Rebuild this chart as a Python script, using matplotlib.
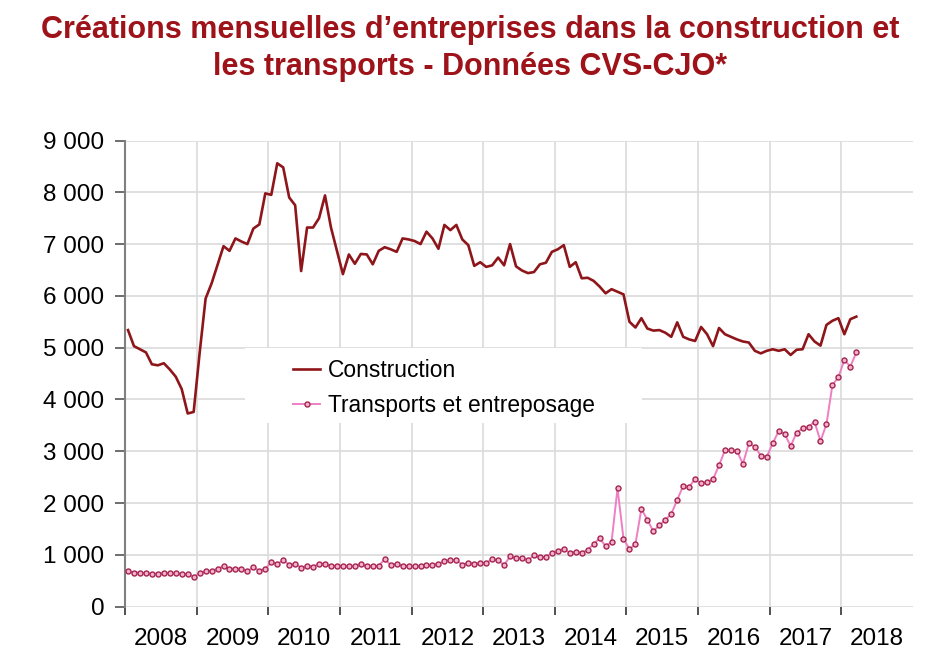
import matplotlib
matplotlib.use("Agg")
import matplotlib.pyplot as plt
from matplotlib.patches import Rectangle
import numpy as np

# Données mensuelles CVS-CJO, janvier 2008 -> mars 2018
construction = [
    5340, 5030, 4970, 4910, 4680, 4660, 4700, 4580, 4440, 4200, 3730, 3760,  # 2008
    4900, 5950, 6240, 6600, 6960, 6870, 7110, 7050, 7000, 7300, 7380, 7980,  # 2009
    7950, 8560, 8480, 7900, 7750, 6480, 7320, 7320, 7500, 7940, 7320, 6870,  # 2010
    6420, 6800, 6620, 6810, 6800, 6610, 6870, 6940, 6900, 6850, 7110, 7090,  # 2011
    7060, 7000, 7240, 7110, 6910, 7370, 7270, 7370, 7090, 6980, 6580, 6650,  # 2012
    6560, 6590, 6740, 6590, 7000, 6570, 6490, 6440, 6460, 6610, 6640, 6850,  # 2013
    6900, 6980, 6560, 6650, 6340, 6350, 6290, 6180, 6050, 6130, 6080, 6030,  # 2014
    5500, 5390, 5570, 5370, 5330, 5340, 5290, 5210, 5490, 5210, 5160, 5130,  # 2015
    5400, 5260, 5030, 5380, 5260, 5210, 5160, 5120, 5100, 4940, 4890, 4940,  # 2016
    4970, 4940, 4970, 4860, 4960, 4970, 5260, 5120, 5040, 5440, 5520, 5570,  # 2017
    5260, 5550, 5600,                                                        # 2018
]
transports = [
    680, 660, 660, 645, 640, 640, 645, 655, 655, 625, 625, 580,
    645, 685, 685, 735, 780, 735, 735, 735, 685, 760, 695, 735,
    855, 825, 895, 810, 825, 755, 790, 775, 830, 830, 790, 790,
    790, 780, 790, 830, 780, 790, 790, 915, 810, 830, 790, 790,
    780, 790, 810, 810, 830, 880, 900, 900, 810, 850, 830, 835,
    845, 915, 900, 805, 970, 945, 935, 900, 990, 955, 965, 1030,
    1080, 1120, 1040, 1060, 1040, 1095, 1210, 1320, 1170, 1250, 2285, 1315,
    1110, 1210, 1890, 1675, 1455, 1570, 1675, 1790, 2060, 2335, 2315, 2465,
    2380, 2405, 2460, 2730, 3020, 3020, 3010, 2755, 3155, 3090, 2915, 2895,
    3155, 3390, 3335, 3100, 3360, 3445, 3470, 3570, 3195, 3525, 4280, 4430,
    4765, 4635, 4910,
]
annees = ["2008", "2009", "2010", "2011", "2012", "2013",
          "2014", "2015", "2016", "2017", "2018"]
y_ticks = [0, 1000, 2000, 3000, 4000, 5000, 6000, 7000, 8000, 9000]

titre = ("Créations mensuelles d\u2019entreprises dans la construction et\n"
         "les transports - Données CVS-CJO*")

plt.rcParams['font.family'] = ['Liberation Sans', 'DejaVu Sans']

fig = plt.figure(figsize=(9.4, 6.64), dpi=100)
ax = fig.add_axes([0.133, 0.0863, 0.8383, 0.7021])

# un point par mois, au milieu de chaque case mensuelle
mois = np.arange(len(construction)) + 0.5
ax.plot(mois, construction, color='#8E161B', lw=1.9,
        label='Construction', zorder=3)
ax.plot(mois, transports, color='#EE7FC4', lw=1.4, marker='o', ms=3.6,
        mfc='#F5B0D2', mec='#A3264C', mew=1.0,
        label='Transports et entreposage', zorder=3)

ax.set_xlim(0, 12 * len(annees))
ax.set_ylim(0, 9000)

# graduations : traits aux changements d'année, libellés au milieu
ax.set_xticks(np.arange(0, 12 * (len(annees) - 1) + 1, 12))
ax.set_xticklabels([])
ax.set_xticks(np.arange(len(annees)) * 12 + 6, minor=True)
ax.set_xticklabels(annees, minor=True)
ax.set_yticks(y_ticks)
ax.set_yticklabels([f"{v:,}".replace(",", " ") for v in y_ticks])

ax.tick_params(axis='x', which='major', length=6, width=1.2, color='#333333')
ax.tick_params(axis='x', which='minor', length=0, pad=15, labelsize=17.5)
ax.tick_params(axis='y', length=7, width=1.2, color='#555555',
               labelsize=17.5, pad=8)

ax.set_axisbelow(True)
ax.grid(True, which='major', color='#DADADA', lw=1.2)

for s in ['top', 'right', 'bottom']:
    ax.spines[s].set_visible(False)
ax.spines['left'].set_color('#808080')
ax.spines['left'].set_linewidth(1.5)

# fond blanc derrière la légende (masque la grille)
ax.add_patch(Rectangle((0.152, 0.394), 0.504, 0.161, transform=ax.transAxes,
                       facecolor='white', edgecolor='none', zorder=1.5))
ax.legend(loc='center left', bbox_to_anchor=(0.213, 0.469), frameon=False,
          fontsize=16.4, handlelength=1.2, handletextpad=0.35,
          labelspacing=0.5, borderpad=0, borderaxespad=0)

fig.text(0.5, 1 - 15 / 664, titre, ha='center', va='top', fontsize=22,
         fontweight='bold', color='#9E1219', linespacing=1.32)

fig.savefig('out.png', dpi=100)
